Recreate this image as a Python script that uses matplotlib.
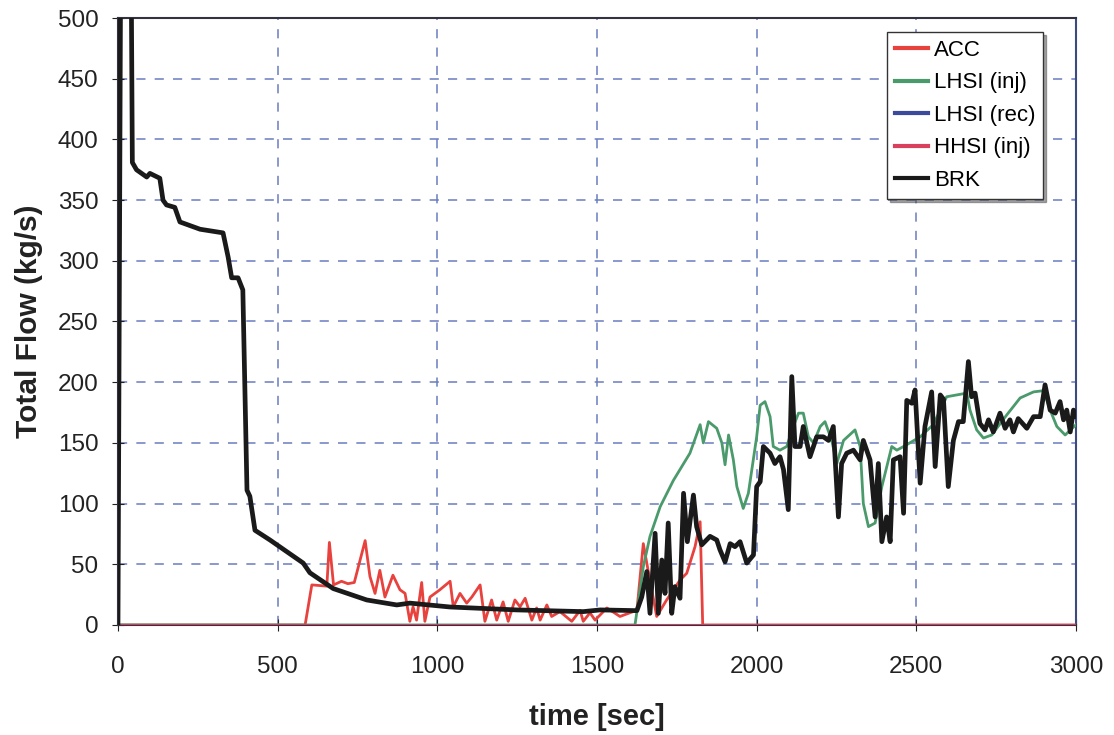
import numpy as np
import matplotlib.pyplot as plt

plt.rcParams['font.family'] = ['Liberation Sans', 'DejaVu Sans']

# BRK (break flow), kg/s
brk_t = [0, 8, 12, 40, 45, 58, 90, 100, 131, 141, 152, 178, 194, 257, 329, 345, 356,
         376, 391, 404, 413, 429, 476, 580, 601, 674, 779, 873, 914, 1040, 1249, 1457,
         1510, 1625, 1640, 1656, 1666, 1682, 1692, 1703, 1713, 1723, 1734, 1744, 1760,
         1771, 1783, 1802, 1812, 1828, 1854, 1875, 1885, 1901, 1917, 1932, 1948, 1969,
         1990, 2000, 2011, 2021, 2042, 2057, 2073, 2084, 2099, 2110, 2120, 2136, 2146,
         2167, 2188, 2209, 2225, 2240, 2256, 2266, 2282, 2303, 2324, 2334, 2355, 2371,
         2381, 2392, 2407, 2418, 2428, 2449, 2460, 2470, 2486, 2496, 2512, 2527, 2548,
         2559, 2575, 2585, 2600, 2616, 2632, 2647, 2663, 2673, 2684, 2699, 2715, 2726,
         2741, 2762, 2778, 2793, 2804, 2819, 2846, 2867, 2888, 2903, 2919, 2935, 2950,
         2961, 2971, 2982, 2992, 3000]
brk_v = [0, 520, 600, 600, 381, 375, 369, 372, 368, 350, 346, 344, 332, 326, 323, 303, 286,
         286, 276, 111, 106, 78, 70, 51, 43, 30, 20.6, 16.5, 18, 14.8, 12.4, 11,
         12.4, 11.8, 23, 44, 9.6, 75.5, 9.6, 53.5, 26, 84, 9.6, 31.6, 22,
         108.5, 68.6, 107, 81, 66, 73, 70, 62, 52, 67, 64.5, 68.6, 51,
         57.7, 114, 118, 147, 141.5, 133, 138.6, 128, 95, 204.6, 147, 147, 163.5,
         138.6, 155, 155, 152, 163.5, 89, 133, 141.5, 144, 136, 152, 136, 89,
         133, 68.6, 89, 68.6, 136, 138.6, 92, 185, 182.6, 193.6, 116.8, 163.5, 192,
         130.5, 189.5, 186, 114, 152, 167.5, 167.5, 217, 188, 191, 166, 160.7, 169,
         159, 174.5, 162, 169, 159, 170, 162, 171.6, 171.6, 197.8, 177, 174.5, 184,
         169, 177, 159, 177, 172]

# ACC (accumulator) flow, kg/s
acc_t = [0, 586, 607, 654, 662, 675, 700, 720, 740, 774, 789, 805, 820, 836, 861, 883,
         899, 914, 924, 935, 951, 961, 977, 1008, 1040, 1050, 1071, 1092, 1108, 1134,
         1149, 1170, 1186, 1206, 1222, 1243, 1259, 1275, 1296, 1311, 1322, 1343, 1358,
         1384, 1421, 1447, 1457, 1478, 1494, 1531, 1572, 1613, 1625, 1645, 1660, 1687,
         1718, 1760, 1781, 1807, 1823, 1831, 3000]
acc_v = [0, 0, 33, 32, 68, 33, 36, 34, 35, 69.5, 40, 26, 45, 23, 41, 29,
         26, 3, 15, 4, 35, 3, 23, 29, 36, 15, 26, 18, 23, 33,
         3, 20.6, 4, 19, 3, 20.6, 15, 22, 4, 14, 4, 16.5, 7,
         11, 3, 12, 3, 10, 4, 14, 7, 11, 12, 67, 45, 7,
         20.6, 37, 42.6, 64.5, 85, 0, 0]

# LHSI injection flow, kg/s
lhsi_t = [0, 1619, 1645, 1666, 1698, 1739, 1791, 1823, 1833, 1849, 1875, 1891, 1901,
          1912, 1927, 1938, 1958, 1974, 2000, 2011, 2026, 2042, 2052, 2073, 2094, 2115,
          2131, 2146, 2162, 2178, 2199, 2214, 2235, 2251, 2272, 2308, 2324, 2334, 2350,
          2371, 2392, 2423, 2439, 2460, 2512, 2553, 2595, 2658, 2668, 2689, 2710, 2736,
          2783, 2825, 2867, 2898, 2919, 2940, 2966, 3000]
lhsi_v = [0, 0, 48, 73, 97.5, 119, 141.5, 165, 150, 167.5, 162, 150, 132,
          156.5, 136, 114, 96, 108.5, 155, 181, 184, 171.6, 147, 144, 147, 163.5,
          174.5, 174.5, 155, 150, 163.5, 167.5, 152, 133, 152, 160.7, 147, 100, 81,
          84, 114, 147, 144, 147, 155, 165, 188, 191, 177, 160.7, 154, 156.5,
          173, 187, 192, 193, 177, 163.5, 156.5, 165]

# LHSI recirculation and HHSI injection stay at zero
zero_t = [0, 3000]
zero_v = [0, 0]

fig = plt.figure(figsize=(11.14, 7.35), dpi=100)
ax = fig.add_axes([0.1059, 0.1497, 0.8600, 0.8258])

ax.plot(acc_t, acc_v, color='#e8423f', lw=2, label='ACC', zorder=3)
ax.plot(lhsi_t, lhsi_v, color='#4a9a6c', lw=2, label='LHSI (inj)', zorder=3)
ax.plot(zero_t, zero_v, color='#3b4a9c', lw=2, label='LHSI (rec)', zorder=3)
ax.plot(zero_t, zero_v, color='#d9405e', lw=2, label='HHSI (inj)', zorder=3)
ax.plot(brk_t, brk_v, color='#1a1a1a', lw=3.4, label='BRK', zorder=4)

ax.set_xlim(0, 3000)
ax.set_ylim(0, 500)
ax.set_xticks(np.arange(0, 3001, 500))
ax.set_yticks(np.arange(0, 501, 50))
ax.grid(True, color='#6a7cc0', linestyle=(0, (6, 6)), lw=1.1)
ax.tick_params(direction='inout', length=8, labelsize=17.5, colors='#222222')
ax.tick_params(axis='x', pad=18)
ax.tick_params(axis='y', pad=10)
for s in ax.spines.values():
    s.set_linewidth(1.5)
    s.set_color('#333340')
ax.spines['right'].set_color('#3d4a80')

ax.set_xlabel('time [sec]', fontsize=21, fontweight='bold', color='#222222')
ax.set_ylabel('Total Flow (kg/s)', fontsize=21.5, fontweight='bold', color='#222222')
ax.xaxis.set_label_coords(0.5, -0.128)
ax.yaxis.set_label_coords(-0.078, 0.5)

leg = ax.legend(loc='upper right', bbox_to_anchor=(0.9656, 0.977), fontsize=16,
                frameon=True, fancybox=False, shadow=True, borderpad=0.35,
                handlelength=1.5, handletextpad=0.25, labelspacing=0.52,
                borderaxespad=0)
leg.get_frame().set_edgecolor('#333333')
leg.get_frame().set_linewidth(1.0)
for line in leg.get_lines():
    line.set_linewidth(3)

fig.savefig('out.png', dpi=100)
